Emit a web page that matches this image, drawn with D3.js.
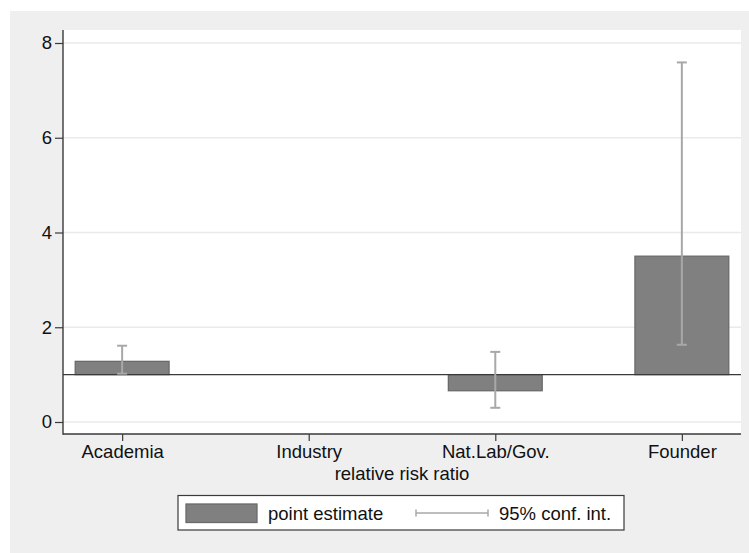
<!DOCTYPE html>
<html>
<head>
<meta charset="utf-8">
<script src="https://cdn.jsdelivr.net/npm/d3@7"></script>
<style>
  html, body { margin: 0; padding: 0; background: #ffffff; }
  svg { display: block; font-family: Arial, "Liberation Sans", sans-serif; }
</style>
</head>
<body>
<svg id="chart" width="749" height="553"></svg>
<script>
// Relative risk ratios by sector (Industry is the reference category)
const categories = ["Academia", "Industry", "Nat.Lab/Gov.", "Founder"];
const pointEstimate = [1.28, 1.00, 0.66, 3.50];
const ciLower = [1.02, null, 0.30, 1.63];
const ciUpper = [1.61, null, 1.48, 7.59];
const yTicks = [0, 2, 4, 6, 8];
const baseValue = 1;
const xTitle = "relative risk ratio";
const legendLabels = ["point estimate", "95% conf. int."];

const svg = d3.select("#chart");
const W = 749, H = 553;
const plot = { left: 63, right: 741, top: 30, bottom: 434 };

// outer graph region
svg.append("rect").attr("x", 10).attr("y", 11).attr("width", W - 10).attr("height", H - 11)
  .attr("fill", "#efefef");
// plot region
svg.append("rect").attr("x", plot.left).attr("y", plot.top)
  .attr("width", plot.right - plot.left).attr("height", plot.bottom - plot.top)
  .attr("fill", "#ffffff");

const x = d3.scalePoint().domain(categories).range([plot.left, plot.right]).padding(0.317);
const y = d3.scaleLinear().domain([0, 8]).range([422, 43]);
const barW = x.step() * 0.503;

// grid lines
svg.append("g").selectAll("line").data(yTicks).join("line")
  .attr("x1", plot.left).attr("x2", plot.right)
  .attr("y1", d => y(d)).attr("y2", d => y(d))
  .attr("stroke", "#eaeaea").attr("stroke-width", 1.5);

const rows = categories.map((c, i) => ({
  cat: c, v: pointEstimate[i], lo: ciLower[i], hi: ciUpper[i]
}));

// bars from the reference value
svg.append("g").selectAll("rect").data(rows.filter(d => d.v !== baseValue)).join("rect")
  .attr("x", d => x(d.cat) - barW / 2)
  .attr("width", barW)
  .attr("y", d => y(Math.max(d.v, baseValue)))
  .attr("height", d => Math.abs(y(d.v) - y(baseValue)))
  .attr("fill", "#808080").attr("stroke", "#6a6a6a").attr("stroke-width", 1.3);

// reference line at 1
svg.append("line").attr("x1", plot.left).attr("x2", plot.right)
  .attr("y1", y(baseValue)).attr("y2", y(baseValue))
  .attr("stroke", "#3a3a3a").attr("stroke-width", 1.4);

// confidence intervals
const ci = svg.append("g").attr("stroke", "#a8a8a8").attr("stroke-width", 2);
const ciRows = rows.filter(d => d.lo !== null);
const capW = 10;
ci.selectAll("line.v").data(ciRows).join("line").attr("class", "v")
  .attr("x1", d => x(d.cat)).attr("x2", d => x(d.cat))
  .attr("y1", d => y(d.lo)).attr("y2", d => y(d.hi));
ci.selectAll("line.lo").data(ciRows).join("line").attr("class", "lo")
  .attr("x1", d => x(d.cat) - capW / 2).attr("x2", d => x(d.cat) + capW / 2)
  .attr("y1", d => y(d.lo)).attr("y2", d => y(d.lo));
ci.selectAll("line.hi").data(ciRows).join("line").attr("class", "hi")
  .attr("x1", d => x(d.cat) - capW / 2).attr("x2", d => x(d.cat) + capW / 2)
  .attr("y1", d => y(d.hi)).attr("y2", d => y(d.hi));

// axes
const yAxis = svg.append("g").attr("transform", `translate(${plot.left},0)`)
  .call(d3.axisLeft(y).tickValues(yTicks).tickSize(8).tickPadding(3).tickFormat(d3.format("d")));
const xAxis = svg.append("g").attr("transform", `translate(0,${plot.bottom})`)
  .call(d3.axisBottom(x).tickSize(7).tickPadding(4));
[yAxis, xAxis].forEach(a => {
  a.select(".domain").remove();
  a.selectAll(".tick line").attr("stroke", "#3a3a3a").attr("stroke-width", 1.2);
  a.selectAll(".tick text").attr("fill", "#111").attr("font-size", "18.5px")
    .attr("font-family", "Arial, 'Liberation Sans', sans-serif");
});
svg.append("line").attr("x1", plot.left).attr("x2", plot.left)
  .attr("y1", plot.top).attr("y2", plot.bottom + 0.7)
  .attr("stroke", "#3a3a3a").attr("stroke-width", 1.4);
svg.append("line").attr("x1", plot.left).attr("x2", plot.right)
  .attr("y1", plot.bottom).attr("y2", plot.bottom)
  .attr("stroke", "#3a3a3a").attr("stroke-width", 1.4);

// axis title
svg.append("text").attr("x", (plot.left + plot.right) / 2).attr("y", 480)
  .attr("text-anchor", "middle").attr("font-size", "18.5px").attr("fill", "#111")
  .text(xTitle);

// legend
const lg = svg.append("g");
lg.append("rect").attr("x", 178).attr("y", 495.5).attr("width", 446).attr("height", 34.5)
  .attr("fill", "#ffffff").attr("stroke", "#3a3a3a").attr("stroke-width", 1.2);
lg.append("rect").attr("x", 186).attr("y", 504).attr("width", 71).attr("height", 18.5)
  .attr("fill", "#808080").attr("stroke", "#6a6a6a").attr("stroke-width", 1.3);
lg.append("text").attr("x", 268).attr("y", 519.5).attr("font-size", "18.5px").attr("fill", "#111")
  .text(legendLabels[0]);
const lgCi = lg.append("g").attr("stroke", "#a8a8a8").attr("stroke-width", 1.5);
lgCi.append("line").attr("x1", 416).attr("x2", 488).attr("y1", 513).attr("y2", 513);
lgCi.append("line").attr("x1", 416).attr("x2", 416).attr("y1", 509.5).attr("y2", 516.5);
lgCi.append("line").attr("x1", 488).attr("x2", 488).attr("y1", 509.5).attr("y2", 516.5);
lg.append("text").attr("x", 499).attr("y", 519.5).attr("font-size", "18.5px").attr("fill", "#111")
  .text(legendLabels[1]);
</script>
</body>
</html>
